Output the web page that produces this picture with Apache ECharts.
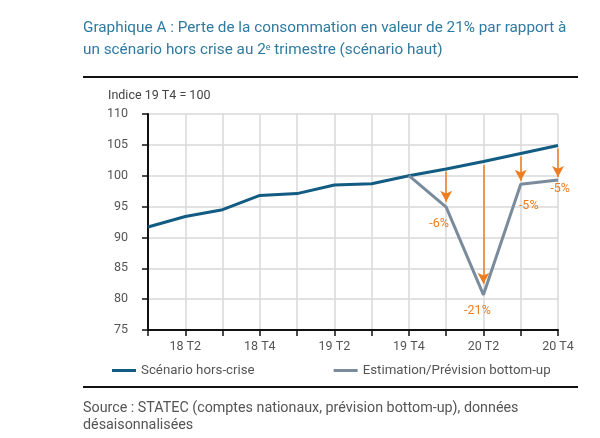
<!DOCTYPE html>
<html>
<head>
<meta charset="utf-8">
<script src="https://cdn.jsdelivr.net/npm/echarts@6/dist/echarts.min.js"></script>
<style>html,body{margin:0;padding:0;background:#fff;}#c{width:600px;height:438px;}</style>
</head>
<body>
<div id="c"></div>
<script>
var categories = ['18 T1','18 T2','18 T3','18 T4','19 T1','19 T2','19 T3','19 T4','20 T1','20 T2','20 T3','20 T4'];
var horsCrise = [91.7, 93.4, 94.5, 96.8, 97.1, 98.5, 98.7, 100, 101.1, 102.3, 103.6, 104.9];
var estimation = [null, null, null, null, null, null, null, 100, 94.9, 80.7, 98.6, 99.3];
var arrowCats = ['20 T1','20 T2','20 T3','20 T4'];
var arrowFrom = [100.7, 101.7, 103.1, 104.4];
var arrowTo = [95.8, 82.5, 99.2, 99.8];
var lossLabels = ['-6%', '-21%', '-5%', '-5%'];
var lossAt = [94.9, 80.7, 98.6, 99.3];
var yTicks = [75, 80, 85, 90, 95, 100, 105, 110];

var FONT = 'Roboto';
var labelOffsets = [[-7, 17], [-6, 16], [8, 22], [2, 9]];

var chart = echarts.init(document.getElementById('c'), null, {renderer: 'canvas'});
chart.setOption({
  backgroundColor: '#fff',
  animation: false,
  textStyle: {fontFamily: FONT},
  title: [
    {
      text: 'Graphique A : Perte de la consommation en valeur de 21% par rapport à',
      left: 78, top: 16,
      textStyle: {fontFamily: FONT, fontSize: 15.3, fontWeight: 'normal', color: '#2f7aa0'}
    },
    {
      text: '{a|un scénario hors crise au 2}{s|e}{a| trimestre (scénario haut)}',
      left: 78, top: 38,
      textStyle: {
        fontWeight: 'normal',
        rich: {
          a: {fontFamily: FONT, fontSize: 15.3, fontWeight: 'normal', color: '#2f7aa0'},
          s: {fontFamily: FONT, fontSize: 9, fontWeight: 'normal', color: '#2f7aa0', verticalAlign: 'top', padding: [0,0,6,0]}
        }
      }
    },
    {
      text: 'Indice 19 T4 = 100',
      left: 103, top: 84,
      textStyle: {fontFamily: FONT, fontSize: 12.5, fontWeight: 'normal', color: '#444'}
    },
    {
      text: 'Source : STATEC (comptes nationaux, prévision bottom-up), données\ndésaisonnalisées',
      left: 78, top: 395,
      textStyle: {fontFamily: FONT, fontSize: 14.3, fontWeight: 'normal', color: '#555', lineHeight: 17}
    }
  ],
  graphic: [
    {type: 'line', shape: {x1: 83, y1: 77, x2: 578, y2: 77}, style: {stroke: '#111', lineWidth: 2}},
    {type: 'line', shape: {x1: 83, y1: 387, x2: 578, y2: 387}, style: {stroke: '#111', lineWidth: 2}}
  ],
  legend: {
    left: 107, top: 359,
    itemWidth: 24, itemHeight: 3, itemGap: 79,
    icon: 'rect',
    textStyle: {fontFamily: FONT, fontSize: 13.3, color: '#555'},
    data: ['Scénario hors-crise', 'Estimation/Prévision bottom-up']
  },
  grid: {left: 148, right: 42, top: 114, bottom: 108},
  xAxis: {
    type: 'category',
    data: categories,
    boundaryGap: false,
    axisLine: {lineStyle: {color: '#111', width: 2}},
    axisTick: {show: true, inside: false, length: 6, alignWithLabel: true, interval: 0, lineStyle: {color: '#111', width: 1.5}},
    axisLabel: {interval: function (i) { return i % 2 === 1; }, color: '#555', fontSize: 12.5, fontFamily: FONT, margin: 10},
    splitLine: {show: true, interval: 0, lineStyle: {color: '#d9d9d9', width: 1.5}}
  },
  yAxis: {
    type: 'value',
    min: yTicks[0], max: yTicks[yTicks.length - 1], interval: 5,
    axisLine: {show: true, lineStyle: {color: '#111', width: 2}},
    axisTick: {show: true, length: 6, lineStyle: {color: '#111', width: 1.5}},
    axisLabel: {color: '#555', fontSize: 12.5, fontFamily: FONT, margin: 20},
    splitLine: {show: true, lineStyle: {color: '#d9d9d9', width: 1.5}}
  },
  series: [
    {
      name: 'Scénario hors-crise',
      type: 'line',
      data: horsCrise,
      symbol: 'none',
      lineStyle: {color: '#125b82', width: 3},
      itemStyle: {color: '#125b82'},
      z: 3
    },
    {
      name: 'Estimation/Prévision bottom-up',
      type: 'line',
      data: estimation,
      symbol: 'none',
      lineStyle: {color: '#7a8b9c', width: 3},
      itemStyle: {color: '#7a8b9c'},
      z: 3,
      markLine: {
        silent: true,
        symbol: ['none', 'arrow'],
        symbolSize: [9, 11],
        lineStyle: {color: '#ee7d21', width: 1.5, type: 'solid'},
        label: {show: false},
        data: arrowCats.map(function (c, i) {
          return [{coord: [c, arrowFrom[i]]}, {coord: [c, arrowTo[i]]}];
        })
      },
      markPoint: {
        silent: true,
        symbol: 'circle',
        symbolSize: 0,
        label: {show: true, color: '#ee7d21', fontSize: 12.5, fontFamily: FONT},
        data: arrowCats.map(function (c, i) {
          return {coord: [c, lossAt[i]], value: lossLabels[i], label: {formatter: lossLabels[i], offset: labelOffsets[i]}};
        })
      }
    }
  ]
});
</script>
</body>
</html>
